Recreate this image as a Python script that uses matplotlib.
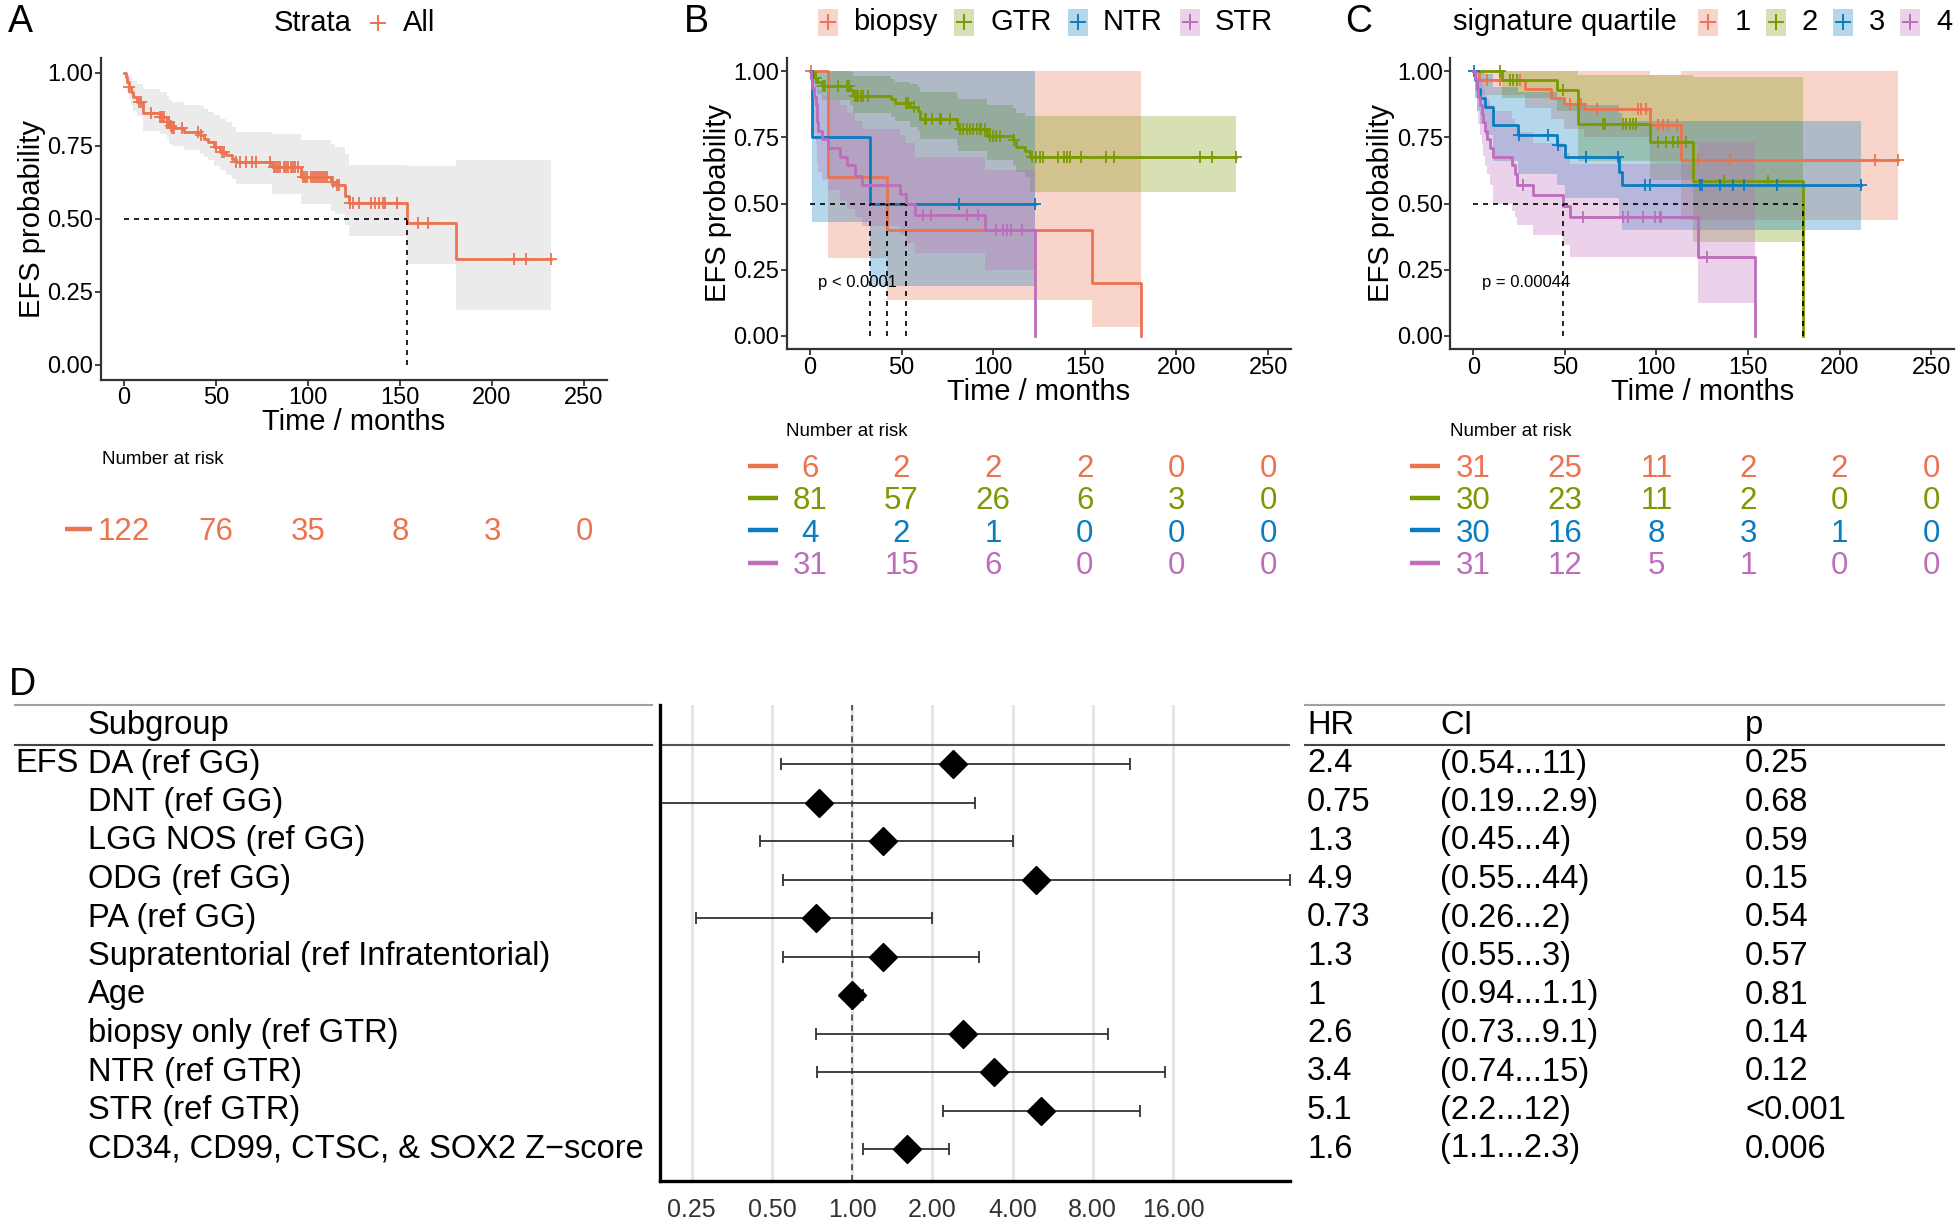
import numpy as np
import matplotlib.pyplot as plt
import matplotlib.transforms as mtransforms
from matplotlib.lines import Line2D
from matplotlib.patches import Rectangle
from matplotlib.ticker import NullLocator

plt.rcParams['font.family'] = ['Liberation Sans', 'DejaVu Sans']

W, H = 1960, 1226

ORANGE = '#EC7350'
GREEN = '#7A9A01'
BLUE = '#0A7CC0'
PURPLE = '#BD6DBB'

risk_times = [0, 50, 100, 150, 200, 250]

# ---------------- panel A : all patients ----------------
a_t = [0, 1.1, 1.9, 2.6, 3.7, 4.7, 7.3, 10.1, 19.8, 23.1, 24.6, 26.3, 32.8, 41.4, 43.6, 45.7, 49.0,
       52.2, 55.4, 58.7, 60.8, 80.2, 96.4, 112.6, 114.8, 120.1, 122.3, 154.0, 180.5]
a_s = [1.0, 0.985, 0.967, 0.95, 0.934, 0.917, 0.90, 0.86, 0.848, 0.832, 0.816, 0.81, 0.797, 0.786,
       0.774, 0.762, 0.745, 0.728, 0.717, 0.705, 0.694, 0.677, 0.642, 0.625, 0.614, 0.579, 0.553,
       0.485, 0.362]
a_lo = [1.0, 0.96, 0.935, 0.91, 0.89, 0.87, 0.85, 0.80, 0.79, 0.775, 0.755, 0.75, 0.735, 0.72, 0.71,
        0.70, 0.68, 0.665, 0.65, 0.635, 0.62, 0.585, 0.55, 0.525, 0.515, 0.48, 0.442, 0.345, 0.187]
a_hi = [1.0, 1.0, 0.995, 0.99, 0.98, 0.97, 0.96, 0.945, 0.935, 0.92, 0.905, 0.90, 0.89, 0.885, 0.875,
        0.865, 0.855, 0.84, 0.83, 0.815, 0.795, 0.79, 0.77, 0.755, 0.745, 0.72, 0.685, 0.682, 0.70]
a_end = 232.0
a_cens = [2.6, 8, 9.5, 14.5, 19.8, 20.9, 22, 23.1, 24.2, 25.5, 26.3, 27.4, 31.7, 40.3, 41.9, 50, 53.3,
          54.4, 60.8, 63, 66.2, 69.5, 71.6, 79.2, 81.3, 82.4, 83.5, 85, 86.7, 87.8, 88.9, 90.6, 92.1,
          93.2, 94.3, 97.5, 98.6, 99.7, 101.8, 102.9, 104, 105, 106.1, 107.2, 108.3, 109.4, 110.4,
          113.7, 115.8, 116.9, 123, 124.5, 127.7, 134.2, 136.3, 138.5, 140.6, 141.7, 148.2, 160,
          165.4, 211.8, 218.7, 232.0]
a_risk = [122, 76, 35, 8, 3, 0]

# ---------------- panel B : extent of resection ----------------
b_names = ['biopsy', 'GTR', 'NTR', 'STR']

bio_t = [0, 10.0, 41.8, 154.0, 180.5]
bio_s = [1.0, 0.6, 0.4, 0.2, 0.0]
bio_lo = [1.0, 0.296, 0.135, 0.034, 0.0]
bio_hi = [1.0, 1.0, 1.0, 1.0, 0.0]
bio_end = 180.5
bio_cens = [0.5]

gtr_t = [0, 1.8, 2.7, 3.6, 6.4, 21.8, 23.6, 44.5, 46.4, 54.5, 59.0, 60.0, 80.0, 80.9, 96.4, 110.9,
         112.7, 117.3, 120.0]
gtr_s = [1.0, 0.985, 0.972, 0.958, 0.944, 0.93, 0.907, 0.893, 0.878, 0.863, 0.848, 0.82, 0.80, 0.782,
         0.755, 0.74, 0.715, 0.70, 0.675]
gtr_lo = [1.0, 0.955, 0.935, 0.915, 0.89, 0.87, 0.84, 0.825, 0.81, 0.79, 0.775, 0.745, 0.72, 0.70,
          0.665, 0.645, 0.62, 0.60, 0.545]
gtr_hi = [1.0, 1.0, 1.0, 1.0, 1.0, 0.995, 0.98, 0.97, 0.96, 0.95, 0.94, 0.92, 0.905, 0.895, 0.87, 0.86,
          0.84, 0.83, 0.83]
gtr_end = 232.3
gtr_cens = [3.3, 7.3, 8.2, 15.5, 20, 21.3, 24.5, 25.5, 26.4, 27.8, 29, 31.8, 52.7, 53.6, 57, 62.7,
            63.6, 66.4, 70.9, 71.8, 76.4, 81.8, 83.6, 85.5, 87.3, 89, 91, 92.7, 93.6, 95.5, 98, 100,
            101.8, 103.6, 111.5, 121, 123.6, 125.5, 127.3, 135.6, 138.8, 140.3, 142, 148, 161.5, 166,
            212.6, 219.3, 232.3]

ntr_t = [0, 1.3, 32.7]
ntr_s = [1.0, 0.75, 0.5]
ntr_lo = [1.0, 0.429, 0.19]
ntr_hi = [1.0, 1.0, 1.0]
ntr_end = 122.7
ntr_cens = [81.5, 122.7]

str_t = [0, 0.5, 1.3, 2.4, 3.1, 3.6, 4.5, 6.4, 10.0, 16.4, 20.0, 24.5, 28.2, 49.0, 52.7, 57.3, 95.8,
         122.7]
str_s = [1.0, 0.968, 0.935, 0.903, 0.871, 0.806, 0.774, 0.742, 0.71, 0.677, 0.645, 0.605, 0.57, 0.535,
         0.50, 0.455, 0.40, 0.0]
str_lo = [1.0, 0.91, 0.81, 0.76, 0.72, 0.65, 0.62, 0.59, 0.55, 0.51, 0.48, 0.45, 0.416, 0.38, 0.35,
          0.312, 0.25, 0.0]
str_hi = [1.0, 1.0, 1.0, 1.0, 0.99, 0.96, 0.93, 0.91, 0.89, 0.87, 0.84, 0.81, 0.78, 0.76, 0.73, 0.677,
          0.626, 0.0]
str_end = 122.7
str_cens = [61.8, 66, 85.5, 91.5, 101.8, 105.5, 107.3, 109.6, 115.5]

b_risk = [[6, 2, 2, 2, 0, 0],
          [81, 57, 26, 6, 3, 0],
          [4, 2, 1, 0, 0, 0],
          [31, 15, 6, 0, 0, 0]]

# ---------------- panel C : signature quartile ----------------
c_names = ['1', '2', '3', '4']

q1_t = [0, 3.0, 28.5, 42.3, 49.3, 60.4, 96.5, 113.5]
q1_s = [1.0, 0.967, 0.933, 0.90, 0.877, 0.857, 0.795, 0.663]
q1_lo = [1.0, 0.91, 0.86, 0.82, 0.78, 0.75, 0.66, 0.438]
q1_hi = [1.0, 1.0, 1.0, 1.0, 1.0, 1.0, 0.985, 1.0]
q1_end = 232.0
q1_cens = [7.3, 14.5, 25.5, 53, 59, 67.3, 90, 91.8, 94.5, 101, 103.6, 106.4, 111, 122.7, 140, 219.1,
           232.0]

q2_t = [0, 15.7, 45.5, 57.2, 96.5, 119.9, 180.0]
q2_s = [1.0, 0.967, 0.93, 0.80, 0.733, 0.586, 0.0]
q2_lo = [1.0, 0.90, 0.85, 0.66, 0.59, 0.356, 0.0]
q2_hi = [1.0, 1.0, 1.0, 0.985, 0.985, 0.979, 0.0]
q2_end = 180.0
q2_cens = [14.5, 20, 21.8, 24, 49, 70.9, 71.8, 81.8, 83.6, 85.5, 87.3, 89, 101, 105.5, 109, 111.8,
           116.4, 136.7, 160.9]

q3_t = [0, 0.9, 1.8, 3.6, 6.4, 10.9, 24.5, 45.5, 50.0, 79.5, 81.0]
q3_s = [1.0, 0.967, 0.933, 0.90, 0.865, 0.796, 0.758, 0.72, 0.677, 0.62, 0.57]
q3_lo = [1.0, 0.90, 0.85, 0.80, 0.76, 0.66, 0.61, 0.57, 0.52, 0.45, 0.40]
q3_hi = [1.0, 1.0, 1.0, 1.0, 0.99, 0.94, 0.92, 0.90, 0.87, 0.84, 0.81]
q3_end = 211.8
q3_cens = [0.5, 25, 41, 46, 61.8, 79, 93.6, 96.4, 123.6, 125, 134.5, 141.8, 147.8, 165.8, 211.8]

q4_t = [0, 0.9, 1.8, 2.7, 3.6, 4.5, 5.5, 6.4, 7.3, 9.1, 10.9, 21.0, 22.7, 24.0, 32.7, 49.0, 52.7,
        122.7, 153.6]
q4_s = [1.0, 0.968, 0.935, 0.903, 0.871, 0.839, 0.806, 0.774, 0.742, 0.71, 0.677, 0.645, 0.613, 0.57,
        0.532, 0.49, 0.45, 0.30, 0.0]
q4_lo = [1.0, 0.90, 0.85, 0.80, 0.76, 0.72, 0.68, 0.64, 0.61, 0.57, 0.50, 0.47, 0.45, 0.42, 0.38,
         0.343, 0.30, 0.126, 0.0]
q4_hi = [1.0, 1.0, 1.0, 0.99, 0.97, 0.95, 0.93, 0.91, 0.89, 0.87, 0.85, 0.82, 0.80, 0.77, 0.73, 0.69,
         0.65, 0.733, 0.0]
q4_end = 153.6
q4_cens = [27, 60, 81.8, 84.5, 92.4, 99, 101.8, 102.7, 127.6]

c_risk = [[31, 25, 11, 2, 2, 0],
          [30, 23, 11, 2, 0, 0],
          [30, 16, 8, 3, 1, 0],
          [31, 12, 5, 1, 0, 0]]

# ---------------- panel D : Cox model ----------------
subgroups = ['DA (ref GG)', 'DNT (ref GG)', 'LGG NOS (ref GG)', 'ODG (ref GG)', 'PA (ref GG)',
             'Supratentorial (ref Infratentorial)', 'Age', 'biopsy only (ref GTR)', 'NTR (ref GTR)',
             'STR (ref GTR)', 'CD34, CD99, CTSC, & SOX2 Z\u2212score']
hr = [2.4, 0.75, 1.3, 4.9, 0.73, 1.3, 1.0, 2.6, 3.4, 5.1, 1.6]
ci_low = [0.54, 0.19, 0.45, 0.55, 0.26, 0.55, 0.94, 0.73, 0.74, 2.2, 1.1]
ci_high = [11, 2.9, 4, 44, 2, 3, 1.1, 9.1, 15, 12, 2.3]
hr_text = ['2.4', '0.75', '1.3', '4.9', '0.73', '1.3', '1', '2.6', '3.4', '5.1', '1.6']
ci_text = ['(0.54...11)', '(0.19...2.9)', '(0.45...4)', '(0.55...44)', '(0.26...2)', '(0.55...3)',
           '(0.94...1.1)', '(0.73...9.1)', '(0.74...15)', '(2.2...12)', '(1.1...2.3)']
p_text = ['0.25', '0.68', '0.59', '0.15', '0.54', '0.57', '0.81', '0.14', '0.12', '<0.001', '0.006']
hr_ticks = [0.25, 0.5, 1, 2, 4, 8, 16]
hr_tick_labels = ['0.25', '0.50', '1.00', '2.00', '4.00', '8.00', '16.00']


fig = plt.figure(figsize=(W / 100, H / 100), dpi=100)


def add_ax(left, top, right, bottom):
    return fig.add_axes([left / W, 1 - bottom / H, (right - left) / W, (bottom - top) / H])


def fx(px):
    return px / W


def fy(py):
    return 1 - py / H


def step_at(ts, ss, t):
    idx = np.searchsorted(ts, t, side='right') - 1
    return np.asarray(ss)[idx]


def style_km(ax):
    ax.set_xlim(-12.5, 262.5)
    ax.set_ylim(-0.05, 1.05)
    ax.set_xticks(risk_times)
    ax.set_yticks([0, 0.25, 0.5, 0.75, 1.0])
    ax.set_yticklabels(['0.00', '0.25', '0.50', '0.75', '1.00'])
    for s in ['top', 'right']:
        ax.spines[s].set_visible(False)
    for s in ['left', 'bottom']:
        ax.spines[s].set_linewidth(1.6)
        ax.spines[s].set_color('#333333')
    ax.tick_params(labelsize=17, length=4, width=1.3, color='#333333', labelcolor='black', pad=1.5)
    ax.set_xlabel('Time / months', fontsize=21, labelpad=-1)
    ax.set_ylabel('EFS probability', fontsize=21, labelpad=1)


def draw_km(ax, curves, colors, fills, alpha):
    for (t, s, lo, hi, end, cens), fc in zip(curves, fills):
        tx = list(t) + [end]
        ax.fill_between(tx, list(lo) + [lo[-1]], list(hi) + [hi[-1]], step='post',
                        color=fc, alpha=alpha, lw=0)
    for (t, s, lo, hi, end, cens), c in zip(curves, colors):
        ax.step(list(t) + [end], list(s) + [s[-1]], where='post', color=c, lw=2.0)
        ax.plot(cens, step_at(t, s, cens), ls='none', marker='+', ms=9, mew=1.3, color=c)
    meds = []
    for (t, s, lo, hi, end, cens) in curves:
        below = np.where(np.asarray(s) <= 0.5)[0]
        if len(below):
            meds.append(t[below[0]])
    if meds:
        ax.plot([0, max(meds)], [0.5, 0.5], color='black', lw=1.2, ls=(0, (3, 3)), zorder=4)
        for m in meds:
            ax.plot([m, m], [0, 0.5], color='black', lw=1.2, ls=(0, (3, 3)), zorder=4)


def risk_table(left, right, top, bottom, rows, colors, dash_t, title_xy):
    ax = add_ax(left, top, right, bottom)
    ax.set_xlim(-12.5, 262.5)
    ax.set_ylim(len(rows) - 0.5, -0.5)
    ax.axis('off')
    for i, (vals, c) in enumerate(zip(rows, colors)):
        for t, v in zip(risk_times, vals):
            ax.text(t, i, str(v), color=c, fontsize=22.5, ha='center', va='center')
        ax.plot(dash_t, [i - 0.1, i - 0.1], color=c, lw=3.2, clip_on=False, solid_capstyle='butt')
    fig.text(fx(title_xy[0]), fy(title_xy[1]), 'Number at risk', fontsize=13.5, va='center', ha='left')


def legend_key(xc, yc, color, filled=True):
    if filled:
        fig.add_artist(Rectangle((fx(xc - 10), fy(yc + 13.5)), 20 / W, 27 / H,
                                 transform=fig.transFigure, facecolor=color, alpha=0.3, lw=0))
    fig.add_artist(Line2D([fx(xc)], [fy(yc)], marker='+', ms=12, mew=1.4, color=color,
                          transform=fig.transFigure))


def legend_text(x, y, s):
    fig.text(fx(x), fy(y), s, fontsize=21, ha='left', va='center')


# ---- A ----
axA = add_ax(101, 57.9, 607, 379.6)
draw_km(axA, [(a_t, a_s, a_lo, a_hi, a_end, a_cens)], [ORANGE], ['#BDBDBD'], 0.3)
style_km(axA)
fig.text(fx(20), fy(22), 'A', fontsize=27, ha='center', va='center')
legend_text(274, 23, 'Strata')
legend_key(378, 23, ORANGE, filled=False)
legend_text(403, 23, 'All')
risk_table(101, 607, 516, 548, [a_risk], [ORANGE], [-32, -17.4], (102, 460))

# ---- B ----
b_curves = [(bio_t, bio_s, bio_lo, bio_hi, bio_end, bio_cens),
            (gtr_t, gtr_s, gtr_lo, gtr_hi, gtr_end, gtr_cens),
            (ntr_t, ntr_s, ntr_lo, ntr_hi, ntr_end, ntr_cens),
            (str_t, str_s, str_lo, str_hi, str_end, str_cens)]
cols = [ORANGE, GREEN, BLUE, PURPLE]
axB = add_ax(787, 57.75, 1291, 349.25)
draw_km(axB, b_curves, cols, cols, 0.3)
style_km(axB)
axB.text(4.6, 0.2, 'p < 0.0001', fontsize=12, ha='left', va='center')
fig.text(fx(696), fy(22), 'B', fontsize=27, ha='center', va='center')
for xk, xt, name, c in zip([827.6, 964, 1077.5, 1190], [853, 990.5, 1103, 1215], b_names, cols):
    legend_key(xk, 22, c)
    legend_text(xt, 22, name)
risk_table(787, 1291, 452.8, 582.2, b_risk, cols, [-33.8, -17.5], (786, 431))

# ---- C ----
c_curves = [(q1_t, q1_s, q1_lo, q1_hi, q1_end, q1_cens),
            (q2_t, q2_s, q2_lo, q2_hi, q2_end, q2_cens),
            (q3_t, q3_s, q3_lo, q3_hi, q3_end, q3_cens),
            (q4_t, q4_s, q4_lo, q4_hi, q4_end, q4_cens)]
axC = add_ax(1450.4, 57.75, 1954, 349.25)
draw_km(axC, c_curves, cols, cols, 0.3)
style_km(axC)
axC.text(4.6, 0.2, 'p = 0.00044', fontsize=12, ha='left', va='center')
fig.text(fx(1359), fy(22), 'C', fontsize=27, ha='center', va='center')
legend_text(1453, 22, 'signature quartile')
for xk, xt, name, c in zip([1708, 1776, 1843, 1910], [1735, 1801, 1869, 1936], c_names, cols):
    legend_key(xk, 22, c)
    legend_text(xt, 22, name)
risk_table(1450.4, 1954, 452.8, 582.2, c_risk, cols, [-34.5, -18.2], (1450, 431))

# ---- D : forest plot ----
row_gap = 38.5
y_top = (705 - 764) / row_gap
y_bot = (1181 - 764) / row_gap
rows = np.arange(len(subgroups))
axD = add_ax(660, 705, 1290, 1181)
axD.set_xscale('log', base=2)
axD.set_xlim(0.19, 44)
axD.set_ylim(y_bot, y_top)
for v in hr_ticks:
    axD.axvline(v, color='#E5E5E5', lw=2.2, zorder=0)
axD.axvline(1, color='#333333', lw=1.1, ls=(0, (4, 3)), zorder=1)
axD.axhline(-0.5, color='#555555', lw=1.5, zorder=1)
hr_a = np.array(hr)
axD.errorbar(hr_a, rows, xerr=[hr_a - np.array(ci_low), np.array(ci_high) - hr_a], fmt='none',
             ecolor='#333333', elinewidth=1.3, capsize=4.5, capthick=1.3, zorder=2)
axD.plot(hr_a, rows, ls='none', marker='D', ms=14.5, color='black', zorder=3)
axD.set_xticks(hr_ticks)
axD.set_xticklabels(hr_tick_labels)
axD.xaxis.set_minor_locator(NullLocator())
axD.set_yticks([])
axD.tick_params(axis='x', length=0, labelsize=18, labelcolor='#333333', pad=12)
for s in ['top', 'right']:
    axD.spines[s].set_visible(False)
for s in ['left', 'bottom']:
    axD.spines[s].set_linewidth(2.4)
    axD.spines[s].set_color('black')

trans = mtransforms.blended_transform_factory(fig.transFigure, axD.transData)
for x0, x1 in [(15, 652), (1305, 1944)]:
    fig.add_artist(Line2D([fx(x0), fx(x1)], [y_top, y_top], transform=trans, color='#A0A0A0', lw=1.5))
    fig.add_artist(Line2D([fx(x0), fx(x1)], [-0.5, -0.5], transform=trans, color='#444444', lw=1.5))

tkw = dict(transform=trans, fontsize=23.5, va='center', ha='left')
fig.text(fx(88), -1.0, 'Subgroup', **tkw)
fig.text(fx(1307), -1.0, 'HR', **tkw)
fig.text(fx(1440), -1.0, 'CI', **tkw)
fig.text(fx(1745), -1.0, 'p', **tkw)
fig.text(fx(15), 0, 'EFS', **tkw)
for i, name in enumerate(subgroups):
    fig.text(fx(88), i, name, **tkw)
    fig.text(fx(1307), i, hr_text[i], **tkw)
    fig.text(fx(1440), i, ci_text[i], **tkw)
    fig.text(fx(1745), i, p_text[i], **tkw)
fig.text(fx(22), fy(685), 'D', fontsize=27, ha='center', va='center')

fig.savefig('out.png', dpi=100)
